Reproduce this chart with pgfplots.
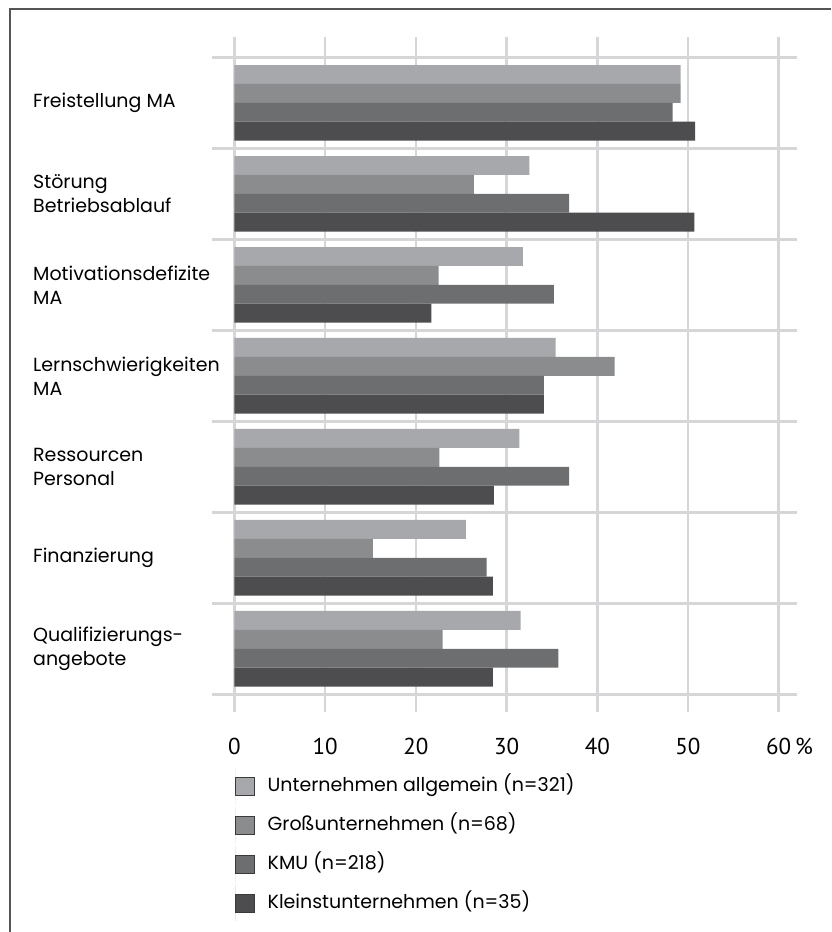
\documentclass[border=0pt]{standalone}
\usepackage{pgfplots}
\pgfplotsset{compat=1.18}
\usepackage{fontspec}
\setmainfont{Poppins}
\newfontfamily\tickfont{PT Sans}

\definecolor{allg}{HTML}{A7A8AB}
\definecolor{gross}{HTML}{8B8C8E}
\definecolor{kmu}{HTML}{6D6E70}
\definecolor{klein}{HTML}{4D4D4F}
\definecolor{gridgray}{HTML}{D6D6D8}
\definecolor{framegray}{HTML}{555555}
\definecolor{legborder}{HTML}{3A3A3A}

\pgfplotsset{
  legimg/.style={legend image code/.code={
      \path (0pt,-18pt) -- (0pt,18pt);
      \draw[##1,draw=legborder,line width=0.9pt] (0pt,-9.5pt) rectangle (19pt,8.5pt);
      \path (32pt,0pt);}},
}

\begin{document}
\begin{tikzpicture}[x=1pt,y=1pt]
\path[use as bounding box] (0,0) rectangle (831,-932);
\draw[framegray, line width=1.2pt] (10,-932) -- (10,-9) -- (831,-9);
\begin{axis}[
  at={(212pt,-712pt)}, anchor=south west,
  scale only axis, width=585pt, height=675pt,
  xmin=-2.48, xmax=62.02, ymin=-0.723, ymax=6.695,
  y dir=reverse,
  xbar, bar width=0.2077,
  axis line style={draw=none},
  major tick length=0pt, minor tick length=0pt,
  xtick={0,10,...,60},
  xticklabels={0,10,20,30,40,50,60\rlap{\,\%}},
  ytick={0,...,6},
  yticklabels={Freistellung MA, {Störung\\Betriebsablauf}, {Motivationsdefizite\\MA},
    {Lernschwierigkeiten\\MA}, {Ressourcen\\Personal}, Finanzierung,
    {Qualifizierungs-\\angebote}},
  minor ytick={-0.5,0.5,...,6.5},
  xmajorgrids, yminorgrids, ymajorgrids=false,
  grid style={gridgray, line width=2.6pt},
  minor grid style={gridgray, line width=2.6pt},
  xticklabel style={font=\tickfont\fontsize{23}{23}\selectfont, anchor=base, yshift=-42pt},
  yticklabel style={anchor=west, align=left, inner sep=0pt, xshift=-179pt,
    font=\fontsize{19}{24}\selectfont},
  legend cell align=left,
  legend style={at={(0.0393,-0.083)}, anchor=north west, draw=none, fill=none,
    font=\fontsize{19}{23}\selectfont, row sep=3pt, inner sep=0pt,
    nodes={inner sep=0pt, text height=14pt, text depth=4pt}},
]
\addplot[fill=allg, draw=none, bar shift=-0.3115, legimg] coordinates
  {(49.2,0) (32.5,1) (31.8,2) (35.4,3) (31.4,4) (25.5,5) (31.55,6)};
\addlegendentry{Unternehmen allgemein (n=321)}
\addplot[fill=gross, draw=none, bar shift=-0.1038, legimg] coordinates
  {(49.2,0) (26.4,1) (22.5,2) (41.9,3) (22.6,4) (15.25,5) (22.95,6)};
\addlegendentry{Großunternehmen (n=68)}
\addplot[fill=kmu, draw=none, bar shift=0.1038, legimg] coordinates
  {(48.3,0) (36.9,1) (35.2,2) (34.1,3) (36.9,4) (27.8,5) (35.7,6)};
\addlegendentry{KMU (n=218)}
\addplot[fill=klein, draw=none, bar shift=0.3115, legimg] coordinates
  {(50.8,0) (50.7,1) (21.7,2) (34.1,3) (28.6,4) (28.5,5) (28.5,6)};
\addlegendentry{Kleinstunternehmen (n=35)}
\end{axis}
\end{tikzpicture}
\end{document}
